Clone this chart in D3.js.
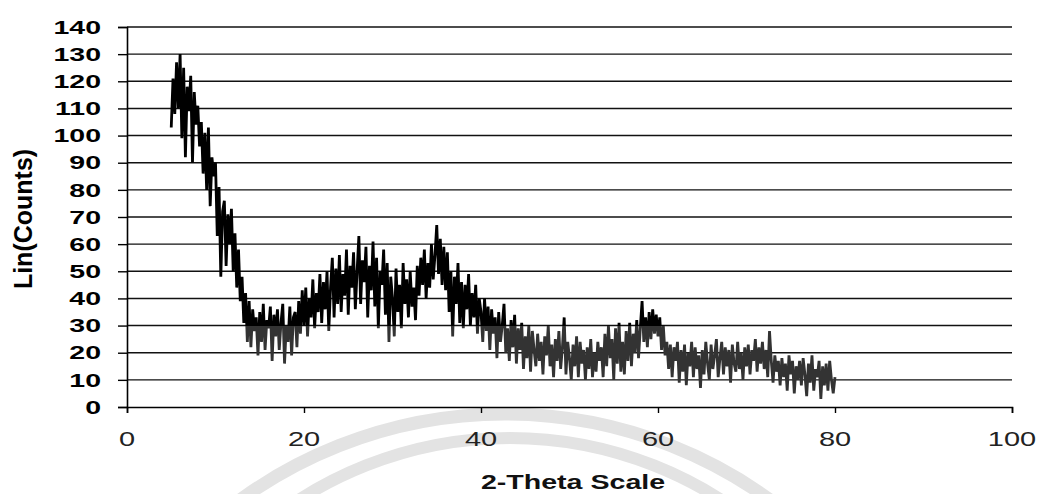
<!DOCTYPE html>
<html>
<head>
<meta charset="utf-8">
<script src="https://cdn.jsdelivr.net/npm/d3@7"></script>
<style>
  body { margin: 0; background: #fff; }
  text { font-family: "Liberation Sans", Arial, sans-serif; }
</style>
</head>
<body>
<div id="chart"></div>
<script>
const width = 1039;
const height = 494;

// 2-theta sampling of the scan
const thetaStart = 5;
const thetaStep = 0.2;

// Lin(Counts), 5 readings per degree, 5.0 .. 80.0
const counts = [
  103, 121, 108, 127, 110,   // 5
  130, 99, 125, 92, 118,     // 6
  109, 122, 90, 116, 104,    // 7
  111, 96, 105, 86, 101,     // 8
  80, 103, 74, 92, 85,       // 9
  90, 63, 81, 48, 72,        // 10
  76, 52, 71, 60, 73,        // 11
  50, 64, 44, 58, 39,        // 12
  48, 31, 42, 24, 39,        // 13
  22, 36, 28, 33, 19,        // 14
  35, 24, 38, 21, 32,        // 15
  29, 37, 17, 34, 26,        // 16
  36, 21, 31, 38, 16,        // 17
  30, 24, 37, 19, 33,        // 18
  35, 22, 39, 27, 43,        // 19
  30, 44, 26, 40, 33,        // 20
  47, 29, 42, 35, 49,        // 21
  31, 46, 36, 50, 28,        // 22
  44, 55, 33, 51, 38,        // 23
  56, 35, 49, 41, 58,        // 24
  34, 52, 44, 57, 36,        // 25
  50, 63, 38, 54, 46,        // 26
  59, 33, 52, 43, 61,        // 27
  37, 55, 29, 50, 45,        // 28
  58, 34, 53, 24, 48,        // 29
  40, 26, 51, 35, 45,        // 30
  29, 53, 38, 47, 33,        // 31
  50, 37, 44, 32, 52,        // 32
  41, 55, 45, 58, 40,        // 33
  53, 44, 60, 47, 56,        // 34
  67, 49, 62, 45, 59,        // 35
  43, 57, 35, 50, 26,        // 36
  48, 38, 53, 31, 46,        // 37
  29, 45, 36, 49, 30,        // 38
  42, 33, 45, 27, 40,        // 39
  35, 24, 40, 28, 37,        // 40
  21, 36, 27, 33, 18,        // 41
  35, 24, 30, 38, 20,        // 42
  29, 17, 32, 22, 34,        // 43
  16, 29, 21, 31, 14,        // 44
  26, 18, 30, 13, 28,        // 45
  21, 15, 27, 17, 24,        // 46
  12, 26, 19, 30, 15,        // 47
  23, 11, 25, 17, 28,        // 48
  14, 22, 33, 12, 24,        // 49
  18, 10, 23, 15, 26,        // 50
  11, 24, 16, 21, 10,        // 51
  22, 14, 25, 11, 20,        // 52
  13, 24, 17, 22, 11,        // 53
  27, 15, 30, 18, 25,        // 54
  10, 29, 16, 31, 13,        // 55
  24, 12, 28, 17, 31,        // 56
  15, 27, 20, 32, 18,        // 57
  29, 39, 24, 33, 22,        // 58
  35, 25, 36, 27, 34,        // 59
  26, 33, 21, 30, 19,        // 60
  24, 14, 23, 11, 22,        // 61
  17, 24, 9, 21, 13,         // 62
  23, 8, 20, 15, 24,         // 63
  11, 22, 14, 19, 7,         // 64
  21, 12, 24, 16, 10,        // 65
  23, 14, 19, 25, 11,        // 66
  18, 24, 12, 22, 15,        // 67
  21, 9, 23, 16, 13,         // 68
  24, 14, 20, 10, 22,        // 69
  15, 23, 12, 21, 17,        // 70
  25, 13, 22, 16, 24,        // 71
  14, 21, 11, 28, 17,        // 72
  9, 19, 13, 17, 8,          // 73
  18, 11, 16, 6, 19,         // 74
  12, 17, 5, 15, 10,         // 75
  17, 8, 18, 12, 4,          // 76
  16, 9, 19, 6, 14,          // 77
  11, 17, 3, 15, 8,          // 78
  16, 6, 17, 10, 5,          // 79
  11                         // 80
];

const xTicks = [0, 20, 40, 60, 80, 100];
const yTicks = [0, 10, 20, 30, 40, 50, 60, 70, 80, 90, 100, 110, 120, 130, 140];

const svg = d3.select("#chart")
  .append("svg")
  .attr("width", width)
  .attr("height", height);

const x = d3.scaleLinear().domain([0, 100]).range([127, 1012]);
const y = d3.scaleLinear().domain([0, 140]).range([407, 27]);

// faint watermark arcs behind the chart
svg.append("circle")
  .attr("cx", 505).attr("cy", 865).attr("r", 451)
  .attr("fill", "none").attr("stroke", "#e3e3e3").attr("stroke-width", 13);
svg.append("circle")
  .attr("cx", 510).attr("cy", 829).attr("r", 391)
  .attr("fill", "none").attr("stroke", "#e3e3e3").attr("stroke-width", 12);

// horizontal gridlines
svg.append("g")
  .selectAll("line")
  .data(yTicks.filter(d => d > 0))
  .join("line")
  .attr("x1", x(0))
  .attr("x2", x(100))
  .attr("y1", d => y(d))
  .attr("y2", d => y(d))
  .attr("stroke", "#111")
  .attr("stroke-width", 1.4);

// axes
const yAxis = svg.append("g")
  .attr("transform", `translate(${x(0)},0)`)
  .call(d3.axisLeft(y).tickValues(yTicks).tickSize(9).tickFormat(""));
const xAxis = svg.append("g")
  .attr("transform", `translate(0,${y(0)})`)
  .call(d3.axisBottom(x).tickValues(xTicks).tickSize(6).tickFormat(""));
[yAxis, xAxis].forEach(a => {
  a.select(".domain").attr("stroke", "#000").attr("stroke-width", 1.6);
  a.selectAll(".tick line").attr("stroke", "#000").attr("stroke-width", 1.4);
});

// tick labels (the original is stretched sideways)
svg.append("g")
  .selectAll("text")
  .data(yTicks)
  .join("text")
  .attr("transform", d => `translate(101,${y(d)}) scale(1.5,1)`)
  .attr("text-anchor", "end")
  .attr("dy", "0.35em")
  .attr("font-size", 19)
  .attr("font-weight", "bold")
  .attr("fill", "#000")
  .text(d => d);

svg.append("g")
  .selectAll("text")
  .data(xTicks)
  .join("text")
  .attr("transform", d => `translate(${x(d)},439) scale(1.45,1)`)
  .attr("text-anchor", "middle")
  .attr("dy", "0.35em")
  .attr("font-size", 20)
  .attr("fill", "#222")
  .text(d => d);

// axis titles
svg.append("text")
  .attr("transform", "translate(573,489) scale(1.43,1)")
  .attr("text-anchor", "middle")
  .attr("font-size", 20)
  .attr("font-weight", "bold")
  .attr("fill", "#111")
  .text("2-Theta Scale");

svg.append("text")
  .attr("transform", "translate(32,219) rotate(-90)")
  .attr("text-anchor", "middle")
  .attr("font-size", 25)
  .attr("font-weight", "bold")
  .attr("fill", "#000")
  .text("Lin(Counts)");

// the trace is black on top and greyed under the watermark
const grad = svg.append("defs").append("linearGradient")
  .attr("id", "traceShade")
  .attr("gradientUnits", "userSpaceOnUse")
  .attr("x1", 0).attr("x2", 0)
  .attr("y1", y(140)).attr("y2", y(0));
const cut = (y(30) - y(140)) / (y(0) - y(140));
grad.append("stop").attr("offset", cut).attr("stop-color", "#000");
grad.append("stop").attr("offset", cut).attr("stop-color", "#333");

const line = d3.line()
  .x((d, i) => x(thetaStart + i * thetaStep))
  .y(d => y(d));

svg.append("path")
  .datum(counts)
  .attr("d", line)
  .attr("fill", "none")
  .attr("stroke", "url(#traceShade)")
  .attr("stroke-width", 2.8)
  .attr("stroke-linejoin", "bevel");
</script>
</body>
</html>
